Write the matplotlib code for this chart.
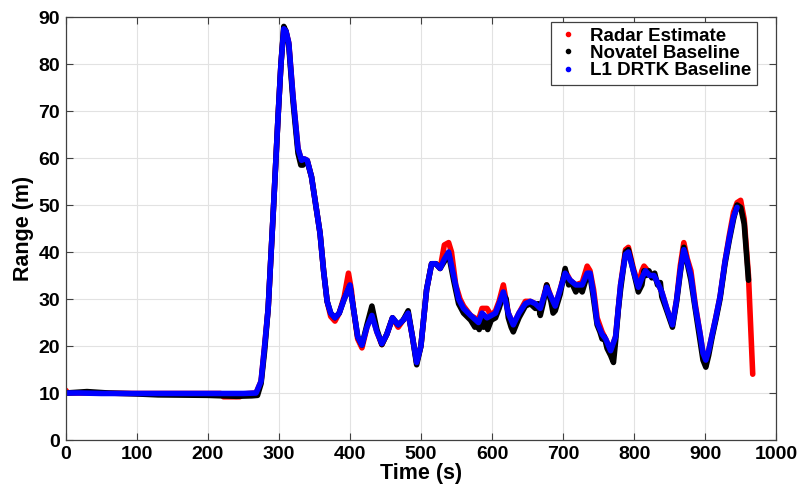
import matplotlib
matplotlib.use("Agg")
import matplotlib.pyplot as plt
from matplotlib.lines import Line2D

# Radar estimate (red)
t_radar = [0, 3, 30, 100, 200, 218, 222, 245, 250, 268, 275, 280, 285, 292, 299, 303, 307, 310, 314,
           320, 327, 332, 336, 340, 346, 352, 358, 363, 368, 373, 379, 385, 392, 398, 402, 405, 411,
           417, 424, 431, 438, 445, 452, 460, 468, 475, 482, 488, 494, 500, 508, 515, 521, 527, 533,
           539, 543, 549, 555, 560, 570, 581, 586, 593, 599, 605, 610, 616, 623, 630, 638, 647, 654,
           661, 668, 672, 677, 683, 689, 696, 703, 710, 718, 727, 734, 738, 743, 748, 755, 760, 767,
           774, 781, 788, 792, 799, 806, 811, 814, 822, 828, 833, 839, 846, 854, 860, 865, 870, 875,
           880, 886, 893, 897, 901, 905, 910, 915, 921, 928, 934, 940, 945, 950, 955, 961, 967]
y_radar = [10.6, 10, 10, 9.9, 9.9, 9.9, 9.2, 9.2, 9.8, 10, 12.5, 20, 28, 48, 69, 80, 87.5, 87, 84.5,
           73, 62, 59.5, 59.8, 59.5, 56, 50, 44, 36, 29.5, 26.3, 25.3, 27, 30.5, 35.5, 32, 28, 21.5,
           19.6, 24, 27, 23, 20.3, 22.5, 26, 24, 25.5, 27, 22, 16.5, 20, 32, 37.5, 37.5, 36.5, 41.5,
           42, 40, 33, 30, 28.5, 26.5, 25.5, 28, 28, 26.5, 27.5, 29.5, 33, 27, 24.5, 27, 29.5, 29.5,
           29, 28, 30, 33, 30.5, 28.5, 32, 36, 34, 33, 33.5, 37, 36, 32, 26, 23, 21.5, 19,
           22, 33, 40.5, 41, 36.5, 33, 36, 37, 35.5, 35, 33.5, 31.5, 28, 24.5, 30, 37, 42, 38.5,
           36, 29, 22.5, 18.5, 17, 19, 22.5, 26, 30.5, 38, 43.5, 48.5, 50.5, 51, 47, 35, 14]

# Novatel baseline (black)
t_novatel = [0, 30, 60, 100, 130, 200, 240, 262, 270, 275, 280, 285, 292, 299, 303, 307, 310, 314,
             320, 327, 331, 334, 337, 340, 346, 352, 358, 363, 368, 373, 379, 385, 392, 400, 405,
             411, 417, 424, 431, 438, 445, 452, 460, 468, 475, 482, 488, 494, 500, 508, 515, 521,
             527, 533, 539, 546, 553, 560, 570, 576, 579, 582, 585, 588, 591, 594, 599, 605, 610,
             616, 620, 623, 627, 630, 634, 638, 647, 654, 661, 665, 668, 672, 677, 680, 683, 686,
             689, 696, 703, 708, 712, 718, 722, 727, 734, 738, 743, 748, 752, 755, 758, 762, 767,
             771, 774, 778, 781, 788, 792, 799, 806, 811, 814, 817, 821, 825, 829, 833, 837, 839,
             846, 854, 860, 865, 870, 875, 880, 886, 893, 897, 901, 905, 910, 915, 921, 928, 934,
             940, 945, 950, 955, 961]
y_novatel = [10, 10.3, 10, 9.8, 9.6, 9.5, 9.3, 9.4, 9.5, 12, 19, 28, 48, 69, 80, 88, 87, 84,
             72, 61, 58.5, 58.5, 59.6, 59.3, 56, 50, 44, 36, 29.5, 27, 26, 27, 30, 32.8, 28,
             22, 20.2, 24.5, 28.5, 23.5, 20.3, 22.5, 26, 24.5, 25.5, 27.5, 22, 16, 20, 32, 37.5, 37.5,
             36.5, 38, 39.5, 34, 29, 27, 25.5, 24, 25, 23.5, 26, 24, 25.5, 23.5, 25.5, 26, 28,
             31, 30, 26, 24, 23, 24.5, 26, 28.5, 29, 28, 29, 26.5, 29, 33, 31, 29.5, 27,
             27.5, 31, 36.5, 33, 33.5, 31.5, 32.5, 31.5, 35, 35, 30, 24.5, 23, 21.5, 22, 19.5, 18,
             16.5, 21, 28, 32, 40, 40.5, 36, 31.5, 33, 36, 35, 36, 34.5, 35.5, 33, 33.5, 30.5,
             27.5, 24, 29.5, 35.5, 41, 37.5, 34, 28, 21, 17, 15.5, 18, 22, 25.5, 30, 37.5, 42.5,
             47, 50, 49.5, 46, 34]

# L1 DRTK baseline (blue)
t_drtk = [0, 20, 50, 100, 150, 200, 250, 268, 275, 280, 285, 292, 299, 303, 307, 310, 314, 320, 327,
          332, 336, 340, 346, 352, 358, 363, 368, 373, 379, 385, 392, 400, 405, 411, 417, 424, 431,
          438, 445, 452, 460, 468, 475, 482, 488, 494, 500, 508, 515, 521, 527, 533, 539, 546, 553,
          560, 570, 581, 586, 593, 599, 605, 610, 616, 623, 630, 638, 647, 654, 661, 668, 672, 677,
          683, 689, 696, 703, 710, 718, 727, 734, 738, 743, 748, 755, 760, 767, 774, 781, 788, 792,
          799, 806, 811, 816, 822, 828, 833, 839, 846, 854, 860, 865, 870, 875, 880, 886, 893, 897,
          901, 905, 910, 915, 921, 928, 934, 940, 945]
y_drtk = [10, 10, 9.9, 9.9, 9.9, 9.9, 9.9, 10, 12.5, 20, 28, 48, 69, 80, 87.5, 87, 84.5, 73, 62,
          59.5, 59.8, 59.5, 56, 50, 44, 36, 29.5, 27, 26, 27, 30, 33, 28, 22, 20.2, 24, 26.5,
          23, 20.5, 22.5, 26, 24.5, 25.5, 27, 22, 16.5, 20, 32, 37.5, 37.5, 36.5, 38.5, 40, 35, 30,
          28, 26.5, 25, 27, 26, 26.5, 27, 29, 31.5, 27, 24.5, 27, 29, 29.5, 29, 28, 30, 32.5,
          30.5, 28.5, 32, 35.5, 34, 33, 33, 35.5, 35.5, 31, 25, 22.5, 21.5, 19, 22, 33, 39.5, 40,
          36, 32.5, 34.5, 36, 35, 35, 33.5, 31.5, 28, 24.5, 30, 36, 40.5, 38, 35, 28.5, 22.5, 18.5,
          17, 19, 22.5, 26, 30.5, 38, 43, 47.5, 49.5]

plt.rcParams["font.family"] = ["Liberation Sans", "DejaVu Sans"]
plt.rcParams["font.weight"] = "bold"

fig = plt.figure(figsize=(8.01, 4.93), dpi=100)
ax = fig.add_axes([0.082, 0.1075, 0.887, 0.858])

lw = 4.0
ax.plot(t_radar, y_radar, color="#ff0000", lw=lw, solid_capstyle="round", solid_joinstyle="round")
ax.plot(t_novatel, y_novatel, color="#000000", lw=lw, solid_capstyle="round", solid_joinstyle="round")
ax.plot(t_drtk, y_drtk, color="#0000ff", lw=lw, solid_capstyle="round", solid_joinstyle="round")

ax.set_xlim(0, 1000)
ax.set_ylim(0, 90)
ax.set_xticks(range(0, 1001, 100))
ax.set_yticks(range(0, 91, 10))
ax.grid(True, color="#e2e2e2", lw=0.8)
ax.set_axisbelow(True)
ax.tick_params(direction="in", top=True, right=True, length=5, width=0.8,
               color="#404040", labelsize=14, pad=4)
for s in ax.spines.values():
    s.set_color("#404040")
    s.set_linewidth(0.9)

ax.set_xlabel("Time (s)", fontsize=15.5, fontweight="bold", labelpad=0)
ax.set_ylabel("Range (m)", fontsize=15.5, fontweight="bold", labelpad=3)

handles = [Line2D([], [], ls="none", marker=".", ms=6, color=c) for c in ("#ff0000", "#000000", "#0000ff")]
leg = ax.legend(handles, ["Radar Estimate", "Novatel Baseline", "L1 DRTK Baseline"],
                loc="upper right", bbox_to_anchor=(0.973, 0.988), borderaxespad=0,
                fancybox=False, framealpha=1, edgecolor="#404040",
                prop={"size": 13.5, "weight": "bold"}, handlelength=1.2, handletextpad=0.6,
                labelspacing=0.0, borderpad=0.3)
leg.get_frame().set_linewidth(0.9)

fig.savefig("out.png", dpi=100)
